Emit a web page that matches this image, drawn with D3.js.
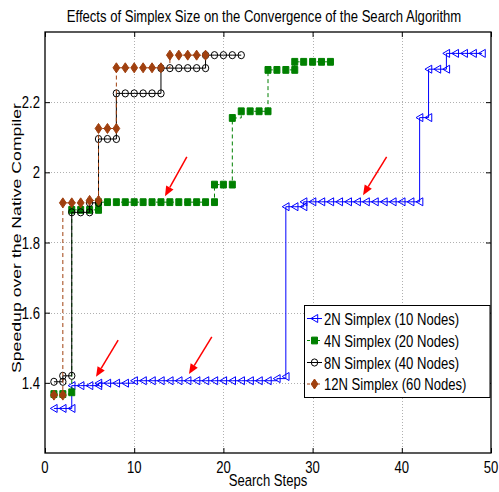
<!DOCTYPE html>
<html><head><meta charset="utf-8">
<script src="https://cdn.jsdelivr.net/npm/d3@7"></script>
<style>body{margin:0;background:#fff}svg{display:block}</style>
</head><body>
<svg id="c" width="499" height="492"></svg>
<script>
// ---------- data ----------
const titleText = "Effects of Simplex Size on the Convergence of the Search Algorithm";
const xLabel = "Search Steps";
const yLabel = "Speedup over the Native Compiler";
const xTicks = [0, 10, 20, 30, 40, 50];
const xTickLabels = ["0", "10", "20", "30", "40", "50"];
const yTicks = [1.4, 1.6, 1.8, 2.0, 2.2];
const yTickLabels = ["1.4", "1.6", "1.8", "2", "2.2"];
const seriesNames = ["2N Simplex (10 Nodes)", "4N Simplex (20 Nodes)", "8N Simplex (40 Nodes)", "12N Simplex (60 Nodes)"];

const s2N_x = [1,2,3, 3,4,5,6, 6,7,8,9, 10,11,12,13,14,15,16,17,18,19,20,21,22,23,24,25, 26, 27, 27,28,29, 29,30,31,32,33,34,35,36,37,38,39,40,41,42, 42,43, 43,44,45, 45,46,47,48,49];
const s2N_y = [1.327,1.327,1.327, 1.392,1.392,1.392,1.392, 1.399,1.399,1.399,1.399,
  1.406,1.406,1.406,1.406,1.406,1.406,1.406,1.406,1.406,1.406,1.406,1.406,1.406,1.406,1.406,1.406,
  1.412, 1.418, 1.902,1.902,1.902,
  1.916,1.916,1.916,1.916,1.916,1.916,1.916,1.916,1.916,1.916,1.916,1.916,1.916,1.916,
  2.156,2.156, 2.294,2.294,2.294, 2.339,2.339,2.339,2.339,2.339];

const s4N_x = [1,2,3, 3,4,5,6, 6,7,8,9,10,11,12,13,14,15,16,17,18,19, 19,20,21, 21, 22,23,24,25, 25,26,27,28, 28,29,30,31,32];
const s4N_y = [1.368,1.368,1.373, 1.893,1.893,1.893,1.893,
  1.915,1.915,1.915,1.915,1.915,1.915,1.915,1.915,1.915,1.915,1.915,1.915,1.915,1.915,
  1.965,1.965,1.965, 2.155, 2.174,2.174,2.174,2.174, 2.292,2.292,2.292,2.292, 2.315,2.315,2.315,2.315,2.315];

const s8N_x = [1,2, 2,3, 3,4,5, 5,6, 6,7,8, 8,9,10,11,12,13, 13,14,15,16,17,18, 18,19,20,21,22];
const s8N_y = [1.403,1.403, 1.42,1.42, 1.886,1.886,1.886, 1.913,1.913, 2.095,2.095,2.095,
  2.225,2.225,2.225,2.225,2.225,2.225, 2.297,2.297,2.297,2.297,2.297,2.297, 2.334,2.334,2.334,2.334,2.334];

const s12N_x = [1,2, 2,3,4, 5,6, 6,7,8, 8,9,10,11,12,13, 14,15,16,17,18];
const s12N_y = [1.365,1.365, 1.913,1.913,1.913, 1.92,1.92, 2.125,2.125,2.125,
  2.298,2.298,2.298,2.298,2.298,2.298, 2.334,2.334,2.334,2.334,2.334];

// annotation arrows (tail -> head, data units)
const arrowTailX = [15.9, 38.3, 18.7, 8.2];
const arrowTailY = [2.044, 2.044, 1.531, 1.522];
const arrowHeadX = [13.45, 35.65, 16.14, 5.72];
const arrowHeadY = [1.932, 1.935, 1.425, 1.417];

// ---------- drawing ----------
const svg = d3.select("#c");
const FONT = "'Liberation Sans', Arial, Helvetica, sans-serif";
const SX = 0.77, FS = 17;
const x = d3.scaleLinear().domain([0, 50]).range([45, 491]);
const y = d3.scaleLinear().domain([1.2, 2.4]).range([453, 32]);

function txt(g, px, py, str, size, anchor, rot, sx) {
  const k = sx || SX;
  const gg = g.append("g").attr("transform", `translate(${px},${py})` + (rot ? ` rotate(${rot})` : "") + ` scale(${k},1)`);
  gg.append("text").attr("font-family", FONT).attr("font-size", size)
    .attr("text-anchor", anchor).attr("fill", "#000").text(str);
}

svg.append("rect").attr("width", 499).attr("height", 492).attr("fill", "#fff");

// grid
const grid = svg.append("g").attr("stroke", "#b0b0b0").attr("stroke-width", 1).attr("stroke-dasharray", "1,2");
xTicks.filter(t => t > 0 && t < 50).forEach(t => {
  grid.append("line").attr("x1", Math.round(x(t)) + 0.5).attr("x2", Math.round(x(t)) + 0.5)
    .attr("y1", y(2.4)).attr("y2", y(1.2));
});
yTicks.forEach(t => {
  grid.append("line").attr("y1", Math.round(y(t)) + 0.5).attr("y2", Math.round(y(t)) + 0.5)
    .attr("x1", x(0)).attr("x2", x(50));
});

// axes via d3 axis (inward ticks), both sides
const axB = d3.axisBottom(x).tickValues(xTicks).tickSize(-5).tickFormat("");
const axT = d3.axisTop(x).tickValues(xTicks).tickSize(-5).tickFormat("");
const axL = d3.axisLeft(y).tickValues(yTicks).tickSize(-5).tickFormat("");
const axR = d3.axisRight(y).tickValues(yTicks).tickSize(-5).tickFormat("");

function styleAxis(g) {
  g.select(".domain").remove();
  g.selectAll(".tick line").attr("stroke", "#000").attr("stroke-width", 1);
  g.selectAll(".tick text").remove();
}
const gB = svg.append("g").attr("transform", `translate(0,${y(1.2)})`).call(axB); styleAxis(gB);
const gT = svg.append("g").attr("transform", `translate(0,${y(2.4)})`).call(axT); styleAxis(gT);
const gL = svg.append("g").attr("transform", `translate(${x(0)},0)`).call(axL); styleAxis(gL);
const gR = svg.append("g").attr("transform", `translate(${x(50)},0)`).call(axR); styleAxis(gR);

// tick labels (condensed text)
const lab = svg.append("g");
xTicks.forEach((t, i) => txt(lab, x(t), 473, xTickLabels[i], FS, "middle"));
yTicks.forEach((t, i) => txt(lab, 40, y(t) + 6, yTickLabels[i], FS, "end"));

// series
const lineGen = d3.line().x(d => x(d[0])).y(d => y(d[1])).curve(d3.curveStepAfter);
const plot = svg.append("g");

const markerPaths = {
  tri: "M-3.6,0L3.2,-4L3.2,4Z",
  sq: "M-3,-3.4H3V3.4H-3Z",
  dia: "M0,-5L3.4,0L0,5L-3.4,0Z"
};
const series = [
  {name: seriesNames[0], xs: s2N_x, ys: s2N_y, color: "#0000ff", dash: null, mk: "tri", fill: "none"},
  {name: seriesNames[1], xs: s4N_x, ys: s4N_y, color: "#008000", dash: "4,3", mk: "sq", fill: "#008000"},
  {name: seriesNames[2], xs: s8N_x, ys: s8N_y, color: "#000000", dash: null, mk: "circ", fill: "none"},
  {name: seriesNames[3], xs: s12N_x, ys: s12N_y, color: "#a0400f", dash: "4,3", mk: "dia", fill: "#a0400f"}
];

function drawMarker(g, cx, cy, s) {
  if (s.mk === "circ") {
    g.append("ellipse").attr("cx", cx).attr("cy", cy).attr("rx", 3.2).attr("ry", 3.6)
      .attr("fill", "none").attr("stroke", s.color).attr("stroke-width", 1);
  } else {
    g.append("path").attr("d", markerPaths[s.mk]).attr("transform", `translate(${cx},${cy})`)
      .attr("fill", s.fill).attr("stroke", s.color).attr("stroke-width", 1);
  }
}

series.forEach(s => {
  const pts = s.xs.map((v, i) => [v, s.ys[i]]);
  const g = plot.append("g");
  g.append("path").attr("d", lineGen(pts)).attr("fill", "none").attr("stroke", s.color)
    .attr("stroke-width", 1).attr("stroke-dasharray", s.dash);
  pts.forEach(p => drawMarker(g, x(p[0]), y(p[1]), s));
});

// arrows
const ag = svg.append("g");
arrowTailX.forEach((_, i) => {
  const x1 = x(arrowTailX[i]), y1 = y(arrowTailY[i]), x2 = x(arrowHeadX[i]), y2 = y(arrowHeadY[i]);
  const ang = Math.atan2(y2 - y1, x2 - x1);
  const L = 10, Wd = 4.2;
  const bx = x2 - L * Math.cos(ang), by = y2 - L * Math.sin(ang);
  ag.append("line").attr("x1", x1).attr("y1", y1).attr("x2", bx).attr("y2", by)
    .attr("stroke", "#ff0000").attr("stroke-width", 1.5);
  const px = -Math.sin(ang) * Wd, py = Math.cos(ang) * Wd;
  ag.append("path").attr("d", `M${x2},${y2}L${bx + px},${by + py}L${bx - px},${by - py}Z`).attr("fill", "#ff0000");
});

// frame
svg.append("rect").attr("x", x(0)).attr("y", y(2.4)).attr("width", x(50) - x(0)).attr("height", y(1.2) - y(2.4))
  .attr("fill", "none").attr("stroke", "#000").attr("stroke-width", 1.3);

// title and axis labels
txt(svg, 264, 22, titleText, FS, "middle");
txt(svg, 268, 486, xLabel, FS, "middle");
txt(svg, 20.5, 238, yLabel, 13, "middle", -90, 1.36);

// legend
const lg = svg.append("g");
lg.append("rect").attr("x", 304.5).attr("y", 305.5).attr("width", 185.5).attr("height", 92)
  .attr("fill", "#fff").attr("stroke", "#000").attr("stroke-width", 1);
const rowY = [318.5, 340.5, 362.5, 384];
series.forEach((s, i) => {
  lg.append("line").attr("x1", 307).attr("x2", 322).attr("y1", rowY[i]).attr("y2", rowY[i])
    .attr("stroke", s.color).attr("stroke-width", 1).attr("stroke-dasharray", s.dash ? "3,2" : null);
  drawMarker(lg, 314.5, rowY[i], s);
  txt(lg, 324, rowY[i] + 6, s.name, FS, "start");
});
</script>
</body></html>
